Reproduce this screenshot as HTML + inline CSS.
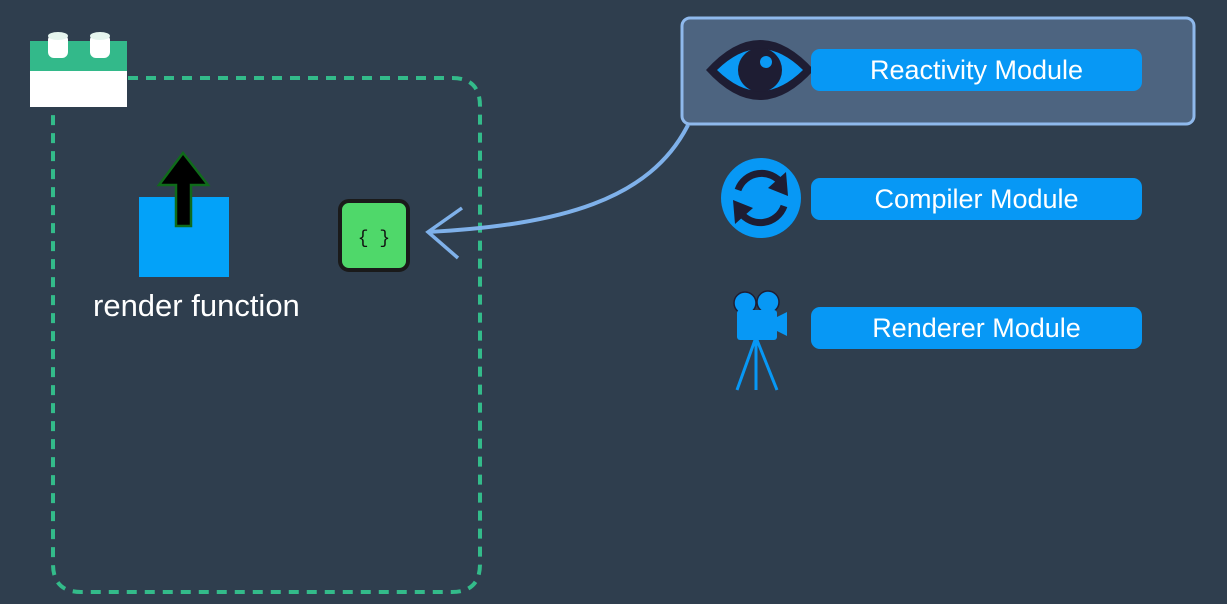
<!DOCTYPE html>
<html><head><meta charset="utf-8"><style>
html,body{margin:0;padding:0;background:#2f3e4e;}
body{width:1227px;height:604px;position:relative;overflow:hidden;font-family:"Liberation Sans",sans-serif;}
.pill{position:absolute;left:811px;width:331px;height:42px;background:#0798f5;border-radius:9px;color:#fff;font-size:27px;line-height:42px;text-align:center;}
</style></head><body>
<svg width="1227" height="604" style="position:absolute;left:0;top:0">
<path d="M128 78 H452 Q480 78 480 106 V564 Q480 592 452 592 H81 Q53 592 53 564 V115" fill="none" stroke="#33bb8a" stroke-width="4" stroke-dasharray="10 8"/>
<rect x="30" y="70" width="97" height="37" fill="#fff"/>
<rect x="30" y="41" width="97" height="30" fill="#33b98a"/>
<rect x="48" y="34" width="20" height="24" rx="6" fill="#fff"/>
<ellipse cx="58" cy="36" rx="10" ry="4" fill="#e6f5ee"/>
<rect x="90" y="34" width="20" height="24" rx="6" fill="#fff"/>
<ellipse cx="100" cy="36" rx="10" ry="4" fill="#e6f5ee"/>
<rect x="139" y="197" width="90" height="80" fill="#03a2f9"/>
<path d="M176 226 V185 H159 L183 153 L208 185 H191 V226 Z" fill="#000" stroke="#0f6b1a" stroke-width="2.5"/>
<rect x="340" y="201" width="68" height="69" rx="9" fill="#4fd86a" stroke="#1a1a1a" stroke-width="4"/>
<text x="374" y="243" font-family="Liberation Mono,monospace" font-size="18" text-anchor="middle" fill="#111">{ }</text>
<path d="M688 125 C650 200 560 225 428 232" fill="none" stroke="#7fb1ea" stroke-width="4"/>
<path d="M462 208 L428 232 L458 258" fill="none" stroke="#7fb1ea" stroke-width="3.5"/>
<rect x="682" y="18" width="512" height="106" rx="8" fill="#4d6480" stroke="#8fb9ec" stroke-width="3"/>
<path d="M706 70 Q760 10 814 70 Q760 130 706 70 Z" fill="#1e1d33"/>
<path d="M717 70 Q760 28 803 70 Q760 112 717 70 Z" fill="#0b9af5"/>
<circle cx="760" cy="70" r="22" fill="#1e1d33"/>
<circle cx="766" cy="62" r="6" fill="#0b9af5"/>
<circle cx="761" cy="198" r="40" fill="#0798f5"/>
<path d="M738 190 A25 25 0 0 1 782 184" fill="none" stroke="#1e1d33" stroke-width="7"/>
<path d="M786 172 L788 196 L768 188 Z" fill="#1e1d33"/>
<path d="M784 206 A25 25 0 0 1 740 212" fill="none" stroke="#1e1d33" stroke-width="7"/>
<path d="M735 224 L733 200 L753 208 Z" fill="#1e1d33"/>
<circle cx="745" cy="303" r="11" fill="#0798f5" stroke="#1e1d33" stroke-width="1.5"/>
<circle cx="768" cy="302" r="11" fill="#0798f5" stroke="#1e1d33" stroke-width="1.5"/>
<rect x="737" y="310" width="40" height="30" rx="3" fill="#0798f5"/>
<path d="M775 318 L787 312 V336 L775 330 Z" fill="#0798f5"/>
<path d="M755 340 L737 390 M756 340 V390 M757 340 L777 390" stroke="#0798f5" stroke-width="3" fill="none"/>
</svg>
<div style="position:absolute;left:93px;top:288px;color:#fff;font-size:31px;">render function</div>
<div class="pill" style="top:49px">Reactivity Module</div>
<div class="pill" style="top:178px">Compiler Module</div>
<div class="pill" style="top:307px">Renderer Module</div>
</body></html>
